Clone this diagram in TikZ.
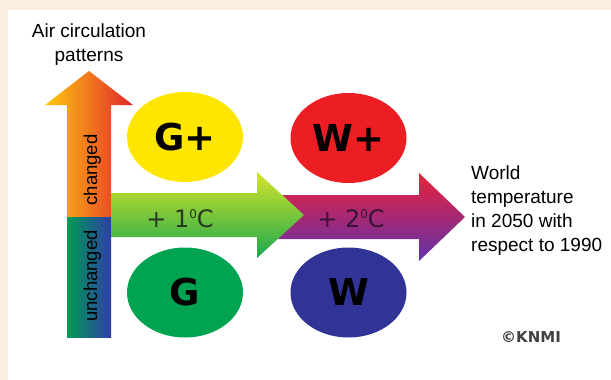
\documentclass[tikz,border=0pt]{standalone}
\usepackage{fontspec}
\setmainfont{Liberation Sans}
\newfontfamily\dejavu{DejaVu Sans}
\usetikzlibrary{shapes.geometric}
\definecolor{paper}{RGB}{251,238,222}
\definecolor{gyellow}{RGB}{255,230,0}
\definecolor{wred}{RGB}{236,30,36}
\definecolor{ggreen}{RGB}{0,163,80}
\definecolor{wblue}{RGB}{48,52,150}
\definecolor{upyellow}{RGB}{255,200,15}
\definecolor{upred}{RGB}{226,38,44}
\definecolor{lowgreen}{RGB}{0,155,85}
\definecolor{lowblue}{RGB}{48,62,168}
\definecolor{onetop}{RGB}{215,228,40}
\definecolor{onebottom}{RGB}{25,168,80}
\definecolor{twotop}{RGB}{235,32,58}
\definecolor{twomid}{RGB}{185,30,150}
\definecolor{twobottom}{RGB}{95,50,172}
\newcommand{\supzero}{\raisebox{8.5pt}{\fontsize{12}{12}\selectfont 0}}
\begin{document}
\begin{tikzpicture}[x=1pt,y=-1pt,
  blob/.style={ellipse, minimum width=116pt, minimum height=90pt, inner sep=0pt, outer sep=0pt,
    font=\dejavu\bfseries\fontsize{37}{37}\selectfont},
  deglabel/.style={anchor=base, inner sep=0pt, font=\dejavu\fontsize{24}{24}\selectfont},
  sidelabel/.style={rotate=90, anchor=base, inner sep=0pt, font=\fontsize{18.5}{18.5}\selectfont},
  plain/.style={inner sep=0pt, font=\fontsize{19}{24}\selectfont}]
\useasboundingbox (0,0) rectangle (611,380);
\fill[paper] (0,0) rectangle (611,380);
\fill[white] (8,10) rectangle (611,380);
\shade[left color=upyellow, right color=upred] (67,217) -- (67,105) -- (45,105) -- (89,71) -- (133,105) -- (111,105) -- (111,217) -- cycle;
\shade[left color=lowgreen, right color=lowblue] (67,217) rectangle (111,337);
\shade[top color=twotop, middle color=twomid, bottom color=twobottom] (276,195) -- (419,195) -- (419,173) -- (465,217) -- (419,261) -- (419,239) -- (276,239) -- cycle;
\shade[top color=onetop, bottom color=onebottom] (111,193) -- (257,193) -- (257,172) -- (304,215) -- (257,258) -- (257,237) -- (111,237) -- cycle;
\node[blob, fill=gyellow] (gplus) at (185,137) {G+};
\node[blob, fill=wred] (wplus) at (348.5,138) {W+};
\node[blob, fill=ggreen] (g) at (185,292.5) {G};
\node[blob, fill=wblue] (w) at (348.5,292.5) {W};
\node[deglabel, text={rgb,255:red,40;green,55;blue,30}] (one) at (180,227) {+ 1\supzero C};
\node[deglabel, text={rgb,255:red,55;green,20;blue,55}] (two) at (351,227) {+ 2\supzero C};
\node[sidelabel] (changed) at (97,170) {changed};
\node[sidelabel] (unchanged) at (97,276) {unchanged};
\node[plain, align=center] (axis) at (89,45) {Air circulation\\patterns};
\node[plain, align=left, anchor=north west] (temp) at (471,166) {World\\temperature\\in 2050 with\\respect to 1990};
\node[inner sep=0pt, text=black!75, font=\dejavu\bfseries\fontsize{15}{15}\selectfont] (knmi) at (531,337) {©KNMI};
\end{tikzpicture}
\end{document}
